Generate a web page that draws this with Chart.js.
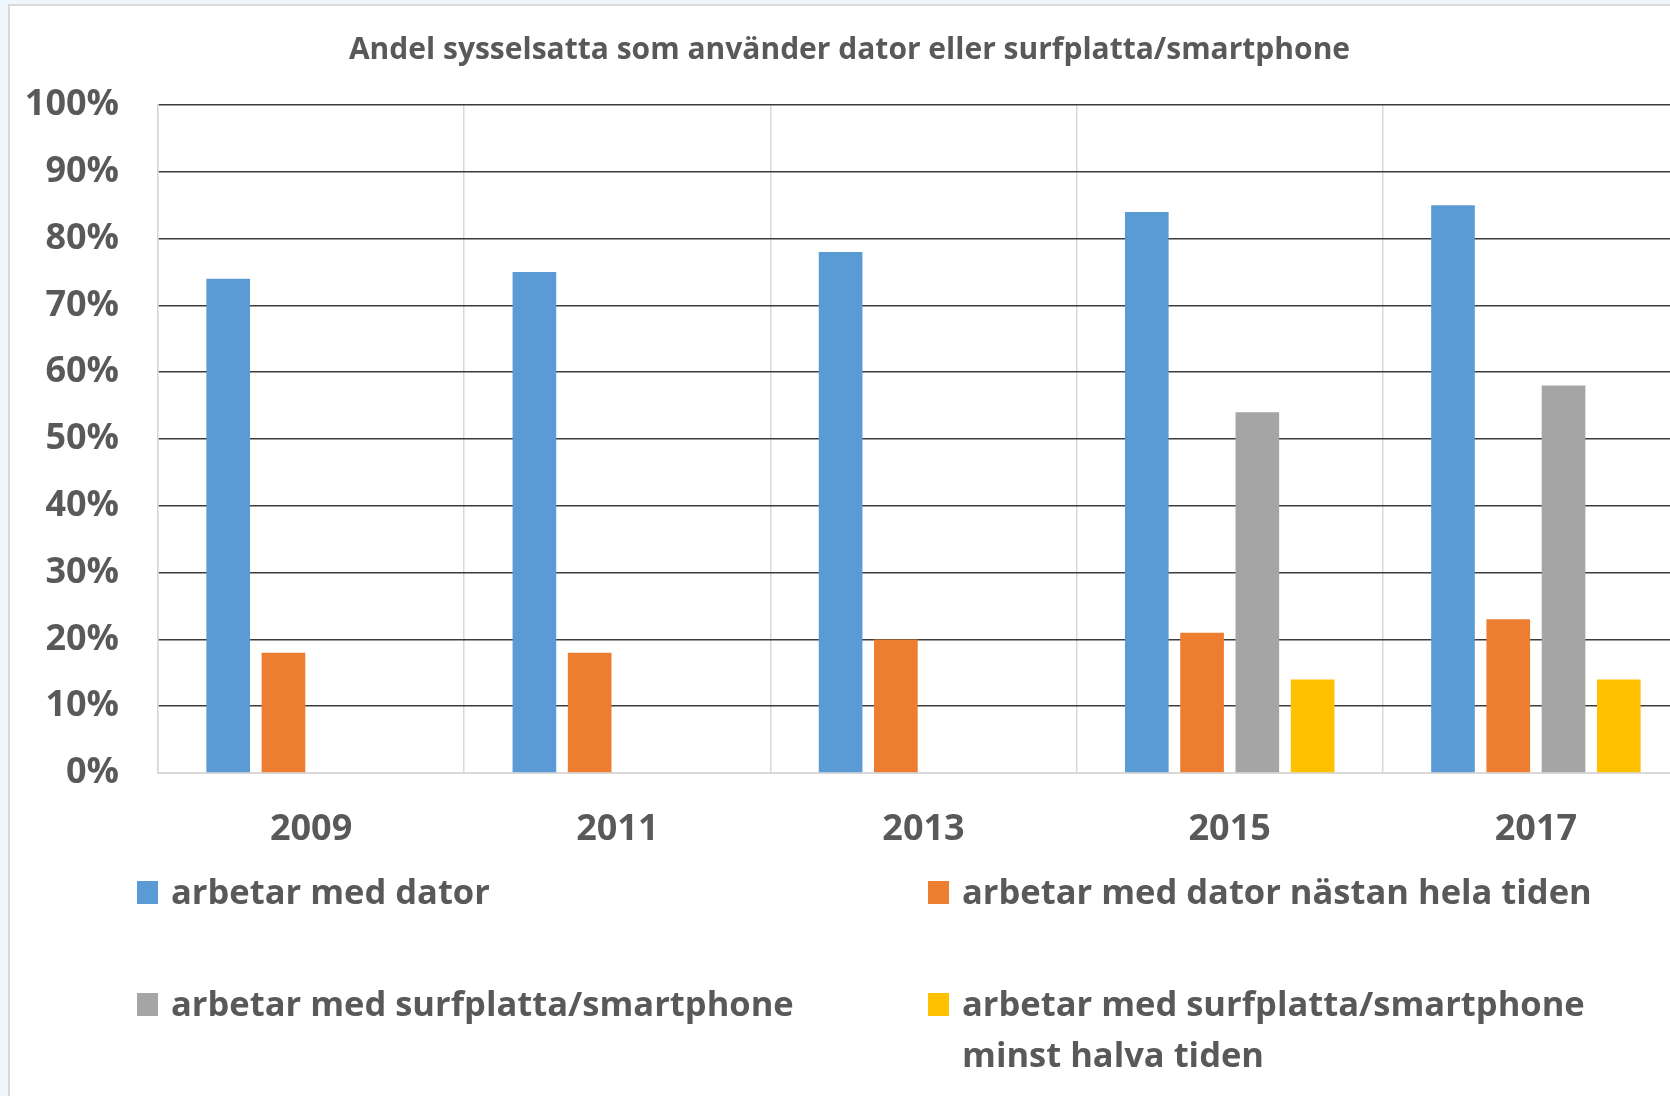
<!DOCTYPE html>
<html>
<head>
<meta charset="utf-8">
<script src="https://cdn.jsdelivr.net/npm/chart.js@4.4.1/dist/chart.umd.min.js"></script>
<style>
  html, body { margin:0; padding:0; width:1670px; height:1096px; overflow:hidden; background:#eef8fc; }
  #frame { position:absolute; left:8px; top:4px; width:1700px; height:1092px; background:#fff;
           border-left:2px solid #d9d9d9; border-top:2px solid #d9d9d9; }
  #wrap { position:absolute; left:0; top:0; width:1690px; height:1090px; }
</style>
</head>
<body>
<div id="frame"><div id="wrap"><canvas id="c"></canvas></div></div>
<script>
const titleText = 'Andel sysselsatta som använder dator eller surfplatta/smartphone';
const categories = ['2009', '2011', '2013', '2015', '2017'];
const seriesNames = [
  'arbetar med dator',
  'arbetar med dator nästan hela tiden',
  'arbetar med surfplatta/smartphone',
  'arbetar med surfplatta/smartphone minst halva tiden'
];
const datorValues       = [74, 75, 78, 84, 85];
const datorHelaValues   = [18, 18, 20, 21, 23];
const surfplattaValues  = [null, null, null, 54, 58];
const surfHalvaValues   = [null, null, null, 14, 14];
const yTicks = [0, 10, 20, 30, 40, 50, 60, 70, 80, 90, 100];
const colors = ['#5b9bd5', '#ed7d31', '#a5a5a5', '#ffc000'];

const FONT = '"Open Sans", "DejaVu Sans", sans-serif';
const TEXT = '#595959';

const allValues = [datorValues, datorHelaValues, surfplattaValues, surfHalvaValues];

const legendPlugin = {
  id: 'customLegend',
  afterDraw(chart) {
    const ctx = chart.ctx;
    const slots = [
      {x: 127, y: 875}, {x: 918, y: 875},
      {x: 127, y: 987}, {x: 918, y: 987}
    ];
    ctx.save();
    ctx.font = 'bold 34.5px ' + FONT;
    ctx.textBaseline = 'alphabetic';
    ctx.textAlign = 'left';
    chart.data.datasets.forEach((ds, i) => {
      const s = slots[i];
      ctx.fillStyle = ds.backgroundColor;
      ctx.fillRect(s.x, s.y, 21, 23);
      ctx.fillStyle = TEXT;
      const words = ds.label.split(' ');
      const maxW = 670;
      const lines = [];
      let cur = '';
      words.forEach(w => {
        const test = cur ? cur + ' ' + w : w;
        if (ctx.measureText(test).width > maxW && cur) { lines.push(cur); cur = w; }
        else cur = test;
      });
      if (cur) lines.push(cur);
      lines.forEach((ln, k) => {
        ctx.fillText(ln, s.x + 34, s.y + 23 + k * 51);
      });
    });
    ctx.restore();
  }
};

new Chart(document.getElementById('c'), {
  type: 'bar',
  data: {
    labels: categories,
    datasets: seriesNames.map((name, i) => ({
      label: name,
      data: allValues[i],
      backgroundColor: colors[i],
      borderWidth: 0,
      categoryPercentage: 0.722,
      barPercentage: 0.79
    }))
  },
  options: {
    responsive: true,
    maintainAspectRatio: false,
    animation: false,
    layout: { padding: { left: 0, right: 11, top: 0, bottom: 243 } },
    plugins: {
      legend: { display: false },
      tooltip: { enabled: false },
      title: {
        display: true,
        text: titleText,
        color: TEXT,
        font: { family: FONT, size: 30, weight: 'bold', lineHeight: 1.2 },
        padding: { top: 26, bottom: 37 }
      }
    },
    scales: {
      x: {
        grid: { display: true, color: '#d9d9d9', lineWidth: 1.5, drawTicks: false, offset: true },
        border: { display: true, color: '#d9d9d9', width: 2 },
        ticks: { color: TEXT, font: { family: FONT, size: 36, weight: 'bold', lineHeight: 1.2 }, padding: 35 },
        afterFit(scale) { scale.height = 80; }
      },
      y: {
        min: 0, max: 100,
        afterBuildTicks(scale) { scale.ticks = yTicks.map(v => ({ value: v })); },
        grid: {
          drawTicks: false,
          color: (c) => c.tick && c.tick.value === 0 ? '#d9d9d9' : '#3c3c3c',
          lineWidth: 1.6
        },
        border: { display: true, color: '#d9d9d9', width: 1.5 },
        ticks: {
          color: TEXT,
          font: { family: FONT, size: 36, weight: 'bold' },
          padding: 39,
          callback: (v) => v + '%'
        },
        afterFit(scale) { scale.width = 148; }
      }
    }
  },
  plugins: [legendPlugin]
});
</script>
</body>
</html>
